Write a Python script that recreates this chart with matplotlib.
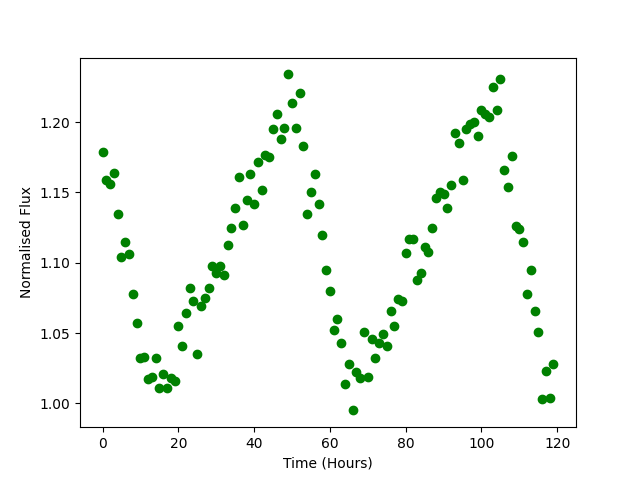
import matplotlib
matplotlib.use("Agg")
import matplotlib.pyplot as plt

time_hours = [
    0, 1, 2, 3, 4, 5, 6, 7, 8, 9,
    10, 11, 12, 13, 14, 15, 16, 17, 18, 19,
    20, 21, 22, 23, 24, 25, 26, 27, 28, 29,
    30, 31, 32, 33, 34, 35, 36, 37, 38, 39,
    40, 41, 42, 43, 44, 45, 46, 47, 48, 49,
    50, 51, 52, 53, 54, 55, 56, 57, 58, 59,
    60, 61, 62, 63, 64, 65, 66, 67, 68, 69,
    70, 71, 72, 73, 74, 75, 76, 77, 78, 79,
    80, 81, 82, 83, 84, 85, 86, 87, 88, 89,
    90, 91, 92, 93, 94, 95, 96, 97, 98, 99,
    100, 101, 102, 103, 104, 105, 106, 107, 108, 109,
    110, 111, 112, 113, 114, 115, 116, 117, 118, 119,
]

flux = [
    1.179, 1.159, 1.156, 1.164, 1.135, 1.104, 1.115, 1.106, 1.078, 1.057,
    1.032, 1.033, 1.017, 1.019, 1.032, 1.011, 1.021, 1.011, 1.018, 1.016,
    1.055, 1.041, 1.064, 1.082, 1.073, 1.035, 1.069, 1.075, 1.082, 1.098,
    1.093, 1.098, 1.091, 1.113, 1.125, 1.139, 1.161, 1.127, 1.145, 1.163,
    1.142, 1.172, 1.152, 1.177, 1.175, 1.195, 1.206, 1.188, 1.196, 1.234,
    1.214, 1.196, 1.221, 1.183, 1.135, 1.150, 1.163, 1.142, 1.120, 1.095,
    1.080, 1.052, 1.060, 1.043, 1.014, 1.028, 0.995, 1.022, 1.018, 1.051,
    1.019, 1.046, 1.032, 1.043, 1.049, 1.041, 1.066, 1.055, 1.074, 1.073,
    1.107, 1.117, 1.117, 1.088, 1.093, 1.111, 1.108, 1.125, 1.146, 1.150,
    1.149, 1.139, 1.155, 1.192, 1.185, 1.159, 1.195, 1.199, 1.200, 1.190,
    1.209, 1.206, 1.204, 1.225, 1.209, 1.231, 1.166, 1.154, 1.176, 1.126,
    1.124, 1.115, 1.078, 1.095, 1.066, 1.051, 1.003, 1.023, 1.004, 1.028,
]

plt.figure(figsize=(6.4, 4.8), dpi=100)
plt.plot(time_hours, flux, 'go')
plt.xlabel("Time (Hours)")
plt.ylabel("Normalised Flux")

plt.savefig("out.png", dpi=100)
